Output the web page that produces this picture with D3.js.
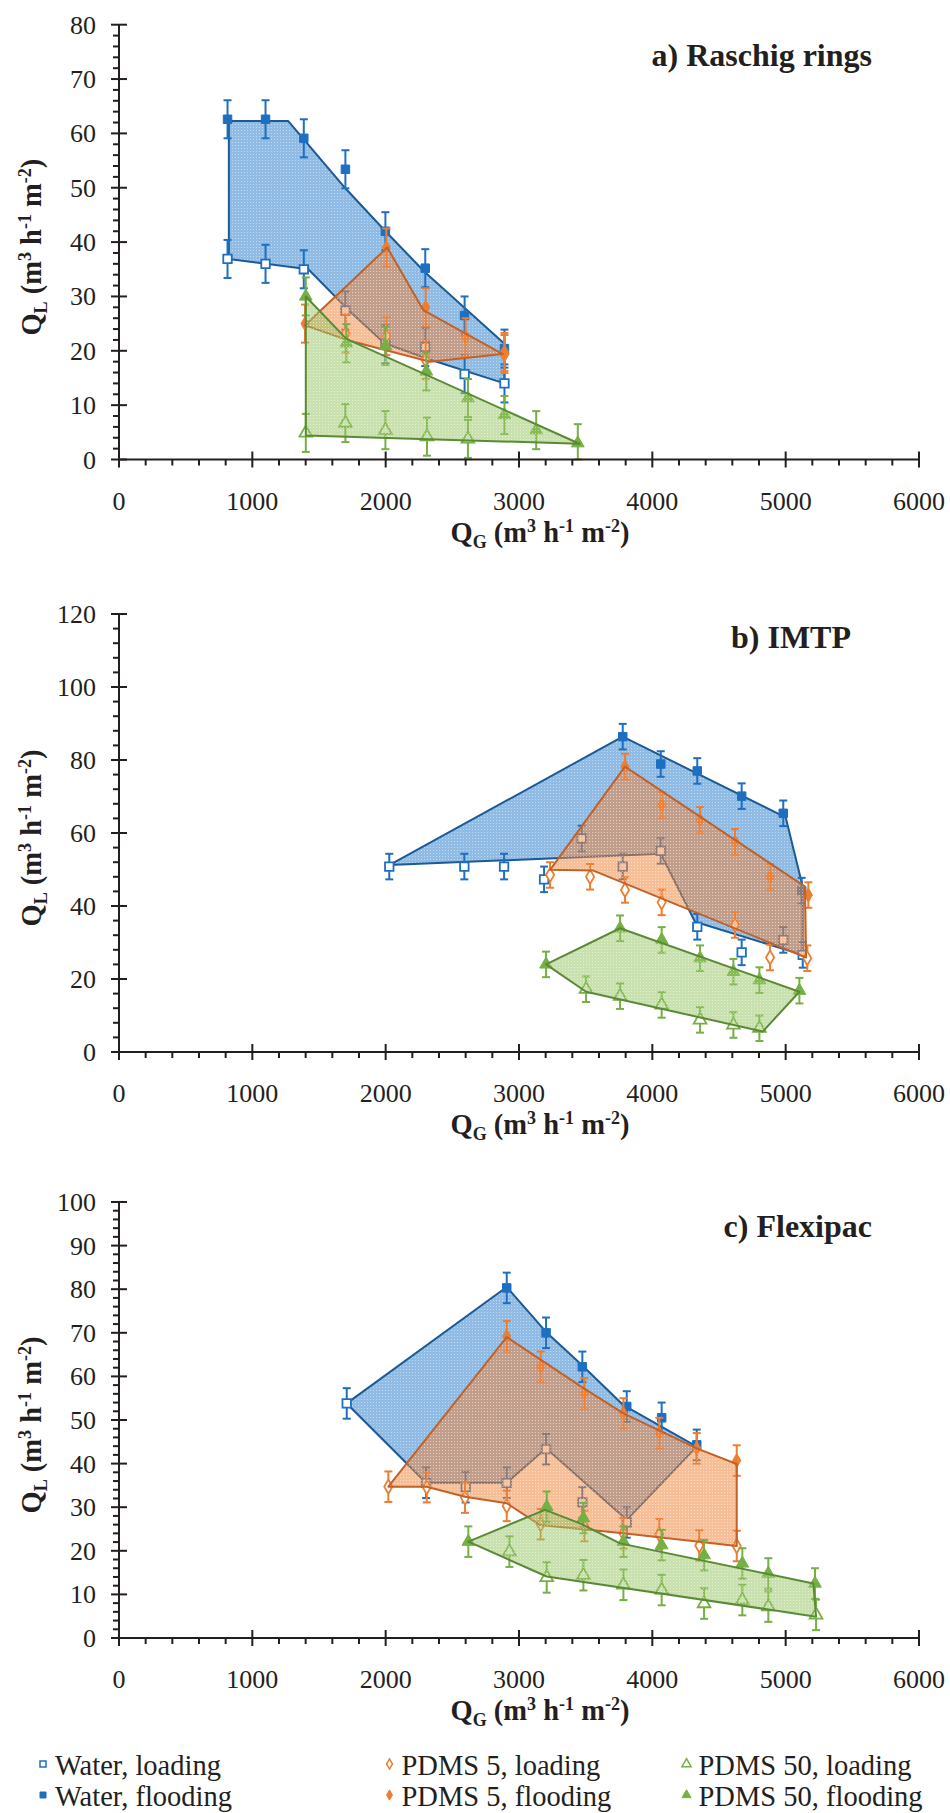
<!DOCTYPE html>
<html><head><meta charset="utf-8">
<script src="https://cdn.jsdelivr.net/npm/d3@7"></script>
<style>
body{margin:0;background:#fff}
svg{display:block}
</style>
</head><body>
<svg id="chart" width="950" height="1813" font-family="'Liberation Serif', 'Times New Roman', Times, 'DejaVu Serif', serif" fill="#231f20"></svg>
<script>
// ---------- tick labels ----------
const xTickValues = [0, 1000, 2000, 3000, 4000, 5000, 6000];
const aYTickValues = [0, 10, 20, 30, 40, 50, 60, 70, 80];
const bYTickValues = [0, 20, 40, 60, 80, 100, 120];
const cYTickValues = [0, 10, 20, 30, 40, 50, 60, 70, 80, 90, 100];
const panelTitles = ["a) Raschig rings", "b) IMTP", "c) Flexipac"];
const legendLabels = ["Water, loading", "Water, flooding", "PDMS 5, loading", "PDMS 5, flooding", "PDMS 50, loading", "PDMS 50, flooding"];
const errorBar = 3.5;

// ---------- a) Raschig rings : [QG, QL] ----------
const aWaterLoading  = [[814,36.9],[1099,36.0],[1386,35.0],[1698,27.4],[1998,21.2],[2297,20.7],[2592,15.7],[2891,14.0]];
const aWaterFlooding = [[814,62.6],[1099,62.6],[1386,59.1],[1698,53.4],[1998,42.0],[2297,35.2],[2592,26.5],[2891,20.4]];
const aPdms5Loading  = [[1700,23.2],[2005,22.7],[2300,18.3],[2891,19.4]];
const aPdms5Flooding = [[1395,25.0],[2005,39.0],[2300,28.0],[2600,22.5],[2891,19.8]];
const aPdms50Loading = [[1401,4.9],[1698,6.7],[1998,5.4],[2310,4.2],[2617,3.8]];
const aPdms50Flooding= [[1401,30.0],[1705,21.4],[1998,20.9],[2305,16.2],[2617,11.3],[2891,8.2],[3129,5.4],[3441,3.0]];
const aWaterRegion   = [[824,62.3],[1268,62.3],[1698,49.9],[1998,42.0],[2297,34.4],[2891,21.3],[2891,14.0],[2330,18.4],[1990,21.4],[1708,27.8],[1420,35.0],[824,36.9]];
const aPdms5Region   = [[1395,24.7],[2012,39.0],[2282,27.5],[2878,19.4],[2333,18.0],[1708,22.0]];
const aPdms50Region  = [[1401,30.0],[1705,22.2],[3453,2.9],[1401,4.4]];

// ---------- b) IMTP ----------
const bWaterLoading  = [[2027,50.8],[2590,50.8],[2888,50.8],[3188,47.3],[3470,58.5],[3778,50.8],[4063,55.1],[4337,34.3],[4670,27.3],[4982,30.7],[5128,26.6]];
const bWaterFlooding = [[3778,86.4],[4063,78.9],[4337,77.0],[4670,70.1],[4982,65.4],[5120,44.2]];
const bPdms5Loading  = [[3233,48.5],[3533,48.0],[3795,44.4],[4070,41.0],[4620,34.8],[4883,25.9],[5162,25.7]];
const bPdms5Flooding = [[3795,78.2],[4070,67.7],[4358,63.6],[4620,57.6],[4883,48.0],[5170,43.0]];
const bPdms50Loading = [[3503,17.2],[3758,15.3],[4070,12.9],[4358,8.8],[4608,7.4],[4803,6.5]];
const bPdms50Flooding= [[3203,24.0],[3758,33.9],[4070,30.7],[4358,25.7],[4608,22.0],[4803,19.7],[5103,16.8]];
const bWaterRegion   = [[2027,51.2],[3778,86.4],[5000,64.3],[5128,45.3],[5128,26.6],[4320,35.7],[4063,54.3],[2027,51.2]];
const bPdms5Region   = [[3233,49.9],[3795,78.2],[5145,45.3],[5153,25.9],[3558,49.7]];
const bPdms50Region  = [[3203,24.0],[3758,33.9],[5103,16.5],[4828,5.6],[3503,16.5]];

// ---------- c) Flexipac ----------
const cWaterLoading  = [[1708,53.8],[2303,35.6],[2600,34.6],[2908,35.6],[3203,43.3],[3475,31.1],[3808,26.5]];
const cWaterFlooding = [[2908,80.3],[3203,70.0],[3475,62.2],[3808,53.1],[4070,50.5],[4333,44.3]];
const cPdms5Loading  = [[2020,34.7],[2308,34.6],[2595,32.2],[2908,30.3],[3163,26.1],[3490,25.7],[3783,24.0],[4052,23.8],[4352,21.2],[4633,21.1]];
const cPdms5Flooding = [[2908,69.2],[3163,62.2],[3490,56.1],[3783,51.5],[4052,47.0],[4333,43.5],[4633,40.7]];
const cPdms50Loading = [[2928,19.8],[3208,13.9],[3483,14.4],[3783,12.2],[4070,11.0],[4388,7.9],[4675,8.7],[4870,7.2],[5228,5.3]];
const cPdms50Flooding= [[2620,22.1],[3208,30.1],[3483,27.5],[3783,22.1],[4070,21.3],[4388,19.0],[4675,17.1],[4870,14.8],[5220,12.5]];
const cWaterRegion   = [[1708,53.8],[2908,80.5],[3203,70.2],[3475,62.5],[3783,53.4],[4333,43.9],[3808,27.1],[3203,43.5],[2908,35.6],[2303,35.6]];
const cPdms5Region   = [[2020,34.7],[2908,69.0],[3475,57.5],[3783,51.5],[4333,43.5],[4633,39.9],[4633,21.1],[3783,24.0],[3158,25.9],[2908,30.9],[2595,32.4],[2308,34.7]];
const cPdms50Region  = [[2620,22.1],[3195,29.4],[3458,26.3],[3758,21.7],[5208,12.5],[5228,4.9],[3208,14.1]];

// ---------- styles ----------
const FONT = "'Liberation Serif', 'Times New Roman', Times, 'DejaVu Serif', serif";
const C = {
  water: {mark:"#1f6fc0", line:"#1b5a94", fill:"#5597d6", op:0.66},
  pdms5: {mark:"#ed7d31", line:"#c0622a", fill:"#f0843a", op:0.52},
  pdms50:{mark:"#74b043", line:"#5a8a35", fill:"#98c565", op:0.52}
};

const panels = [
  {title:panelTitles[0], yTicks:aYTickValues, yMax:80, minor:2, top:24.7, bottom:459.5, titleX:872, titleY:66,
   region:{water:aWaterRegion,pdms5:aPdms5Region,pdms50:aPdms50Region},
   load:{water:aWaterLoading,pdms5:aPdms5Loading,pdms50:aPdms50Loading},
   flood:{water:aWaterFlooding,pdms5:aPdms5Flooding,pdms50:aPdms50Flooding}},
  {title:panelTitles[1], yTicks:bYTickValues, yMax:120, minor:4, top:614, bottom:1052, titleX:851, titleY:648,
   region:{water:bWaterRegion,pdms5:bPdms5Region,pdms50:bPdms50Region},
   load:{water:bWaterLoading,pdms5:bPdms5Loading,pdms50:bPdms50Loading},
   flood:{water:bWaterFlooding,pdms5:bPdms5Flooding,pdms50:bPdms50Flooding}},
  {title:panelTitles[2], yTicks:cYTickValues, yMax:100, minor:2, top:1202, bottom:1638, titleX:872, titleY:1237,
   region:{water:cWaterRegion,pdms5:cPdms5Region,pdms50:cPdms50Region},
   load:{water:cWaterLoading,pdms5:cPdms5Loading,pdms50:cPdms50Loading},
   flood:{water:cWaterFlooding,pdms5:cPdms5Flooding,pdms50:cPdms50Flooding}}
];

const svg = d3.select("#chart");
const defs = svg.append("defs");
for (const k of Object.keys(C)) {
  const p = defs.append("pattern").attr("id","pat-"+k).attr("width",3).attr("height",3)
    .attr("patternUnits","userSpaceOnUse");
  p.append("rect").attr("width",3).attr("height",3).attr("fill",C[k].fill).attr("fill-opacity",C[k].op);
  p.append("rect").attr("x",1).attr("y",1).attr("width",1).attr("height",1).attr("fill","#fff").attr("fill-opacity",0.45);
}

const x = d3.scaleLinear().domain([0,6000]).range([119,919]);
const AX = "#231f20";

const symType = {water:d3.symbolSquare, pdms5:d3.symbolDiamond, pdms50:d3.symbolTriangle};
const symSize = {water:72, pdms5:58, pdms50:70};

function txt(sel) { return sel.append("text").attr("font-family", FONT).attr("fill", AX); }

function drawPoints(g, y, pts, key, filled) {
  const col = C[key].mark;
  const eg = g.append("g").attr("stroke",col).attr("stroke-width",2).attr("fill","none");
  pts.forEach(d => {
    const cx = x(d[0]), y1 = y(d[1]+errorBar), y0 = y(Math.max(d[1]-errorBar,0));
    eg.append("line").attr("x1",cx).attr("x2",cx).attr("y1",y1).attr("y2",y0);
    eg.append("line").attr("x1",cx-4).attr("x2",cx+4).attr("y1",y1).attr("y2",y1);
    eg.append("line").attr("x1",cx-4).attr("x2",cx+4).attr("y1",y0).attr("y2",y0);
  });
  const sym = d3.symbol().type(symType[key]).size(symSize[key]);
  g.append("g").selectAll("path").data(pts).join("path")
    .attr("d", sym)
    .attr("transform", d => `translate(${x(d[0])},${y(d[1])})`)
    .attr("fill", filled ? col : "#fff")
    .attr("stroke", col).attr("stroke-width", filled ? 1 : 1.8);
}

function axisTitle(g, px, py, sub, rotate) {
  const t = txt(g).attr("font-weight","bold").attr("font-size",28.5).attr("text-anchor","middle");
  if (rotate) t.attr("transform",`translate(${px},${py}) rotate(-90)`);
  else t.attr("x",px).attr("y",py);
  t.append("tspan").text("Q");
  t.append("tspan").attr("font-size",18).attr("dy",6).text(sub);
  t.append("tspan").attr("dy",-6).text(" (m");
  t.append("tspan").attr("font-size",18).attr("dy",-10).text("3");
  t.append("tspan").attr("dy",10).text(" h");
  t.append("tspan").attr("font-size",18).attr("dy",-10).text("-1");
  t.append("tspan").attr("dy",10).text(" m");
  t.append("tspan").attr("font-size",18).attr("dy",-10).text("-2");
  t.append("tspan").attr("dy",10).text(")");
}

panels.forEach(P => {
  const y = d3.scaleLinear().domain([0,P.yMax]).range([P.bottom,P.top]);
  const g = svg.append("g");
  const line = d3.line().x(d=>x(d[0])).y(d=>y(d[1])).curve(d3.curveLinearClosed);

  ["water","pdms5","pdms50"].forEach(k => {
    if (k !== "water") {
      drawPoints(g, y, P.load[k], k, false);
      drawPoints(g, y, P.flood[k], k, true);
    }
    g.append("path").attr("d", line(P.region[k]))
      .attr("fill", `url(#pat-${k})`)
      .attr("stroke", C[k].line).attr("stroke-width", 2).attr("stroke-linejoin","round");
    if (k === "water") {
      drawPoints(g, y, P.load[k], k, false);
      drawPoints(g, y, P.flood[k], k, true);
    }
  });

  const ax = g.append("g").attr("stroke",AX);
  ax.append("line").attr("x1",119).attr("x2",119).attr("y1",P.top).attr("y2",P.bottom).attr("stroke-width",2);
  ax.append("line").attr("x1",118).attr("x2",920).attr("y1",P.bottom).attr("y2",P.bottom).attr("stroke-width",2.2);
  d3.range(0, P.yMax+0.001, P.minor).forEach(v => {
    const major = P.yTicks.includes(v);
    ax.append("line").attr("x1", major?111:113).attr("x2", major?127:119)
      .attr("y1", y(v)).attr("y2", y(v)).attr("stroke-width", 2);
  });
  d3.range(0, 6001, 200).forEach(v => {
    const major = xTickValues.includes(v);
    ax.append("line").attr("x1", x(v)).attr("x2", x(v))
      .attr("y1", major ? P.bottom-8 : P.bottom).attr("y2", major ? P.bottom+8 : P.bottom+6)
      .attr("stroke-width", 2);
  });
  P.yTicks.forEach(d => {
    txt(g).attr("x",96).attr("y",y(d)+9).attr("text-anchor","end").attr("font-size",26).text(d);
  });
  xTickValues.forEach(d => {
    txt(g).attr("x",x(d)).attr("y",P.bottom+50).attr("text-anchor","middle").attr("font-size",26).text(d);
  });

  axisTitle(g, 540, P.bottom+82, "G", false);
  axisTitle(g, 41, (P.top+P.bottom)/2 + 5, "L", true);

  txt(g).attr("x",P.titleX).attr("y",P.titleY).attr("text-anchor","end")
    .attr("font-weight","bold").attr("font-size",32).text(P.title);
});

// legend
const legendItems = [
  {key:"water", filled:false, x:43, row:0},
  {key:"water", filled:true,  x:43, row:1},
  {key:"pdms5", filled:false, x:389.5, row:0},
  {key:"pdms5", filled:true,  x:389.5, row:1},
  {key:"pdms50",filled:false, x:686.5, row:0},
  {key:"pdms50",filled:true,  x:686.5, row:1}
];
const lg = svg.append("g");
legendItems.forEach((it,i) => {
  const cy = it.row === 0 ? 1766 : 1797;
  const col = C[it.key].mark;
  lg.append("path").attr("d", d3.symbol().type(symType[it.key]).size(it.key==="pdms5"?30:36)())
    .attr("transform",`translate(${it.x},${cy-2})`)
    .attr("fill", it.filled ? col : "#fff").attr("stroke", col).attr("stroke-width", it.filled?1:1.5);
  txt(lg).attr("x", it.x+12).attr("y", cy+9).attr("font-size",28.5).text(legendLabels[i]);
});
</script>
</body></html>
